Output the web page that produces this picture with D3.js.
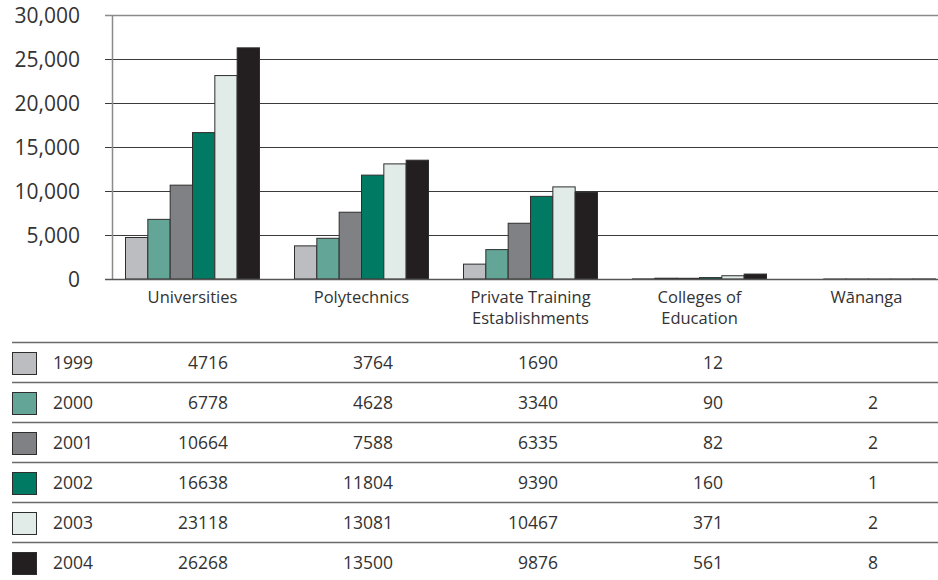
<!DOCTYPE html>
<html>
<head>
<meta charset="utf-8">
<script src="https://cdn.jsdelivr.net/npm/d3@7/dist/d3.min.js"></script>
<style>
  html, body { margin: 0; padding: 0; background: #fff; }
  svg { display: block; font-family: "Open Sans", "Noto Sans", sans-serif; }
  text { fill: #333; }
</style>
</head>
<body>
<svg id="chart" width="938" height="580"></svg>
<script>
// Provider types (x-axis groups)
const categories = ["Universities", "Polytechnics", "Private Training Establishments", "Colleges of Education", "Wānanga"];
// Wrapped labels shown under each group
const categoryLabels = [["Universities"], ["Polytechnics"], ["Private Training", "Establishments"], ["Colleges of", "Education"], ["Wānanga"]];
// Years (series)
const years = ["1999", "2000", "2001", "2002", "2003", "2004"];
// Values per year, in category order (null = no entry)
const values1999 = [4716, 3764, 1690, 12, null];
const values2000 = [6778, 4628, 3340, 90, 2];
const values2001 = [10664, 7588, 6335, 82, 2];
const values2002 = [16638, 11804, 9390, 160, 1];
const values2003 = [23118, 13081, 10467, 371, 2];
const values2004 = [26268, 13500, 9876, 561, 8];
const seriesValues = [values1999, values2000, values2001, values2002, values2003, values2004];
const yearColors = ["#bcbdc1", "#63a597", "#808184", "#007a62", "#e1ebe8", "#231f20"];
const yTicks = [0, 5000, 10000, 15000, 20000, 25000, 30000];

const svg = d3.select("#chart");

const y = d3.scaleLinear().domain([0, 30000]).range([279, 15]);
const x0 = d3.scaleBand().domain(categories).range([108, 953]).padding(0);
const x1 = d3.scaleBand().domain(years).range([17.5, 151.5]).padding(0);
const color = d3.scaleOrdinal().domain(years).range(yearColors);

// Gridlines
const fmt = d3.format(",");
svg.append("g").selectAll("line").data(yTicks).join("line")
  .attr("x1", 105).attr("x2", 938)
  .attr("y1", d => Math.round(y(d)) + 0.5).attr("y2", d => Math.round(y(d)) + 0.5)
  .attr("stroke", d => d === 30000 ? "#8a8a8a" : "#3a3a3a")
  .attr("stroke-width", d => d === 30000 ? 1.5 : 1);

// Vertical axis line
svg.append("line")
  .attr("x1", 112.5).attr("x2", 112.5)
  .attr("y1", y(30000)).attr("y2", y(0))
  .attr("stroke", "#8a8a8a").attr("stroke-width", 1.5);

// Y tick labels
svg.append("g").selectAll("text").data(yTicks).join("text")
  .attr("x", 80).attr("y", d => y(d))
  .attr("dy", "0.36em")
  .attr("text-anchor", "end")
  .style("font-size", "21px")
  .text(d => fmt(d));

// Bars
const flat = [];
categories.forEach((c, ci) => {
  years.forEach((yr, yi) => {
    const v = seriesValues[yi][ci];
    if (v != null) flat.push({ c, yr, v });
  });
});
svg.append("g").selectAll("rect").data(flat).join("rect")
  .attr("x", d => x0(d.c) + x1(d.yr))
  .attr("width", x1.bandwidth())
  .attr("y", d => y(d.v))
  .attr("height", d => y(0) - y(d.v))
  .attr("fill", d => color(d.yr))
  .attr("stroke", "#2e2e2e")
  .attr("stroke-width", 1);

// Baseline drawn over bars
svg.append("line")
  .attr("x1", 105).attr("x2", 938)
  .attr("y1", y(0) + 0.5).attr("y2", y(0) + 0.5)
  .attr("stroke", "#555").attr("stroke-width", 1.5);

// Category labels
const labelG = svg.append("g");
categories.forEach((c, ci) => {
  const cx = x0(c) + x0.bandwidth() / 2 - (ci === 4 ? 2 : 0);
  const t = labelG.append("text")
    .attr("x", cx)
    .attr("y", 303)
    .attr("text-anchor", "middle")
    .style("font-size", "16.5px");
  categoryLabels[ci].forEach((line, li) => {
    t.append("tspan").attr("x", cx).attr("dy", li === 0 ? 0 : 21).text(line);
  });
});

// Data table
const rows = d3.scaleBand().domain(years).range([342, 582]).padding(0);
const colRight = [228, 393, 558, 723, 878];
const table = svg.append("g");
years.forEach((yr, yi) => {
  const top = rows(yr);
  table.append("line")
    .attr("x1", 12).attr("x2", 938)
    .attr("y1", top + 0.5).attr("y2", top + 0.5)
    .attr("stroke", "#6a6a6a").attr("stroke-width", 1.5);
  table.append("rect")
    .attr("x", 12.5).attr("y", top + 10.5)
    .attr("width", 24).attr("height", 22)
    .attr("fill", color(yr))
    .attr("stroke", "#2e2e2e").attr("stroke-width", 1);
  table.append("text")
    .attr("x", 53).attr("y", top + 21).attr("dy", "0.36em")
    .style("font-size", "17.5px")
    .text(yr);
  categories.forEach((c, ci) => {
    const v = seriesValues[yi][ci];
    if (v == null) return;
    table.append("text")
      .attr("x", colRight[ci]).attr("y", top + 21).attr("dy", "0.36em")
      .attr("text-anchor", "end")
      .style("font-size", "17.5px")
      .text(v);
  });
});
</script>
</body>
</html>
